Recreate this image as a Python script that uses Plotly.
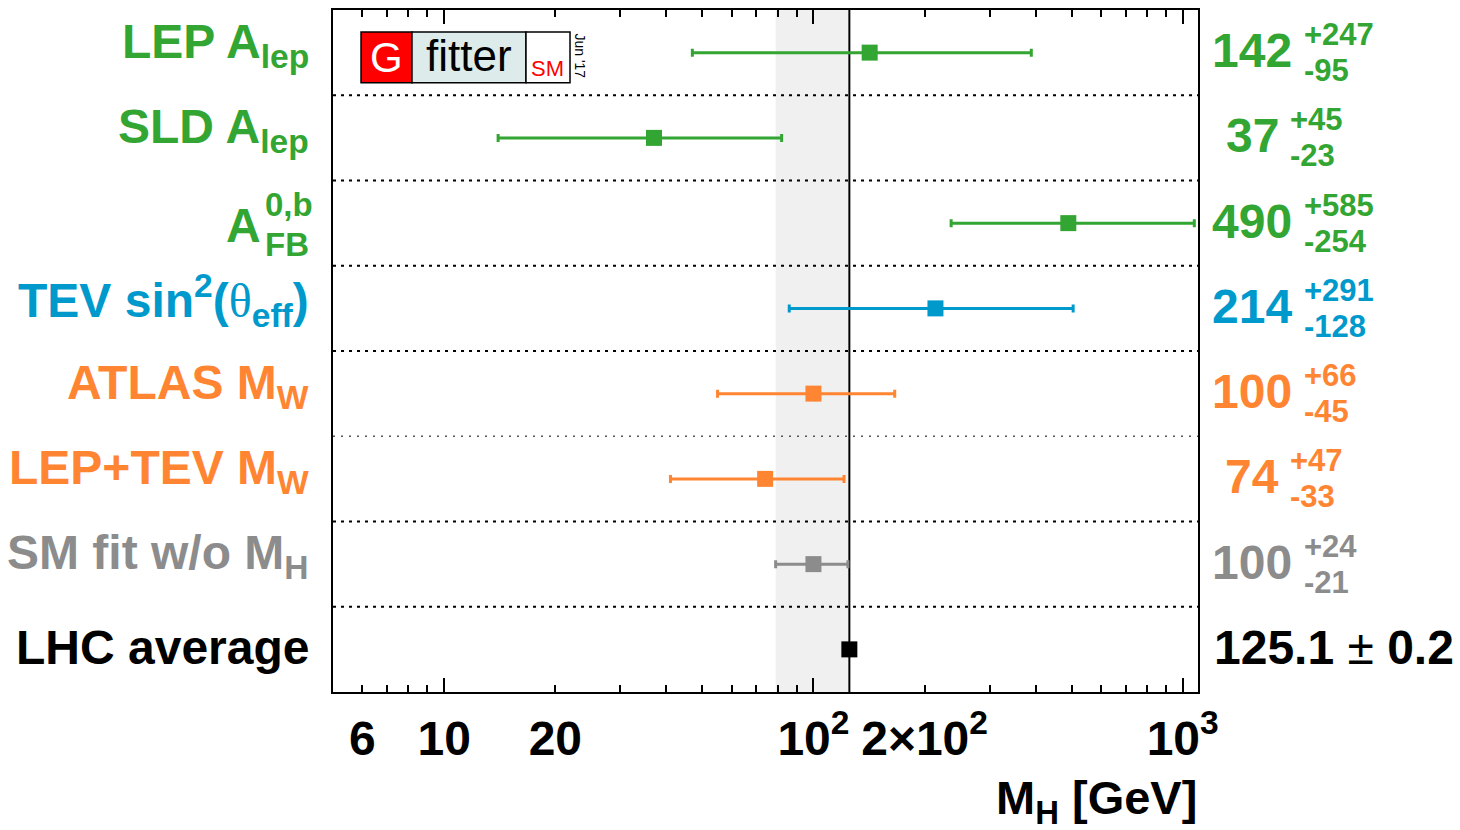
import plotly.graph_objects as go

# Higgs mass determinations (GeV)
labels = ["LEP A<sub>lep</sub>", "SLD A<sub>lep</sub>", "A",
          "TEV sin<sup>2</sup>(<span style=\"font-family:'Liberation Serif';font-weight:normal\">θ</span><sub>eff</sub>)",
          "ATLAS M<sub>W</sub>", "LEP+TEV M<sub>W</sub>", "SM fit w/o M<sub>H</sub>", "LHC average"]
values = [142, 37, 490, 214, 100, 74, 100, 125.1]
err_plus = [247, 45, 585, 291, 66, 47, 24, 0.2]
err_minus = [95, 23, 254, 128, 45, 33, 21, 0.2]
colors = ["#33a532", "#33a532", "#33a532", "#0099cc", "#ff8533", "#ff8533", "#8c8c8c", "#000000"]

# SM fit band and LHC reference
band = [79, 124]
lhc_mass = 125.1

tick_vals = [6, 10, 20, 100, 200, 1000]
tick_text = ["6", "10", "20", "10<sup>2</sup>", "2×10<sup>2</sup>", "10<sup>3</sup>"]
minor_vals = [6, 7, 8, 9, 20, 30, 40, 50, 60, 70, 80, 90, 200, 300, 400, 500, 600, 700, 800, 900]
decade_vals = [10, 100, 1000]

n = len(values)
rows = [n - 1 - i for i in range(n)]
FONT = "Liberation Sans"
BIG = 48
SMALL = 31

fig = go.Figure()

# grey SM band
fig.add_trace(go.Scatter(x=[band[0], band[1], band[1], band[0]], y=[-0.5, -0.5, n - 0.5, n - 0.5],
                         fill="toself", fillcolor="#f0f0f0", line=dict(width=0),
                         mode="lines", hoverinfo="skip", showlegend=False))
# LHC mass line
fig.add_trace(go.Scatter(x=[lhc_mass, lhc_mass], y=[-0.5, n - 0.5], mode="lines",
                         line=dict(color="black", width=2), hoverinfo="skip", showlegend=False))

for i in range(n):
    fig.add_trace(go.Scatter(
        x=[values[i]], y=[rows[i]], mode="markers",
        marker=dict(symbol="square", size=16, color=colors[i]),
        error_x=dict(type="data", symmetric=False, array=[err_plus[i]], arrayminus=[err_minus[i]],
                     color=colors[i], thickness=3, width=4),
        showlegend=False))

# secondary axis for the long decade ticks
fig.add_trace(go.Scatter(x=[10], y=[0], xaxis="x2", mode="markers",
                         marker=dict(opacity=0), hoverinfo="skip", showlegend=False))

shapes = []
for k in range(n - 1):
    yy = k + 0.5
    faint = (k == 2)
    shapes.append(dict(type="line", xref="paper", yref="y", x0=0, x1=1, y0=yy, y1=yy,
                       line=dict(color="#555555" if faint else "black", width=1.5 if faint else 2,
                                 dash="2px,6px" if faint else "3px,5px"),
                       layer="above"))

# logo
logo = [(0.0324, 0.0913, "#ff0000"), (0.0913, 0.2231, "#ddebeb"), (0.2231, 0.274, "#ffffff")]
for x0, x1, c in logo:
    shapes.append(dict(type="rect", xref="paper", yref="paper", x0=x0, x1=x1, y0=0.8933, y1=0.9678,
                       fillcolor=c, line=dict(color="black", width=1.5), layer="above"))

annotations = []
# row labels
for i in range(n):
    if i == 2:
        continue
    has_sub = "<sub>" in labels[i]
    annotations.append(dict(xref="paper", yref="y", x=0, y=rows[i], xshift=-22,
                            yshift=8 if has_sub else 2,
                            xanchor="right", yanchor="middle", text=labels[i], showarrow=False,
                            font=dict(family=FONT, size=BIG, color=colors[i], weight="bold")))
annotations += [
    dict(xref="paper", yref="y", x=0, y=rows[2], xshift=-70, yshift=-2, xanchor="right", yanchor="middle",
         text="A", showarrow=False, font=dict(family=FONT, size=BIG, color=colors[2], weight="bold")),
    dict(xref="paper", yref="y", x=0, y=rows[2], xshift=-70, yshift=19, xanchor="left", yanchor="middle",
         text="0,b", showarrow=False, font=dict(family=FONT, size=33, color=colors[2], weight="bold")),
    dict(xref="paper", yref="y", x=0, y=rows[2], xshift=-70, yshift=-21, xanchor="left", yanchor="middle",
         text="FB", showarrow=False, font=dict(family=FONT, size=33, color=colors[2], weight="bold")),
]

# value labels on the right
for i in range(n - 1):
    main = str(values[i])
    annotations.append(dict(xref="paper", yref="y", x=1, y=rows[i], xshift=54, yshift=2,
                            xanchor="center", yanchor="middle", text=main, showarrow=False,
                            font=dict(family=FONT, size=BIG, color=colors[i], weight="bold")))
    off = 54 + len(main) * 13.2 + 10
    annotations.append(dict(xref="paper", yref="y", x=1, y=rows[i], xshift=off, yshift=18,
                            xanchor="left", yanchor="middle", text="+" + str(err_plus[i]), showarrow=False,
                            font=dict(family=FONT, size=SMALL, color=colors[i], weight="bold")))
    annotations.append(dict(xref="paper", yref="y", x=1, y=rows[i], xshift=off, yshift=-18,
                            xanchor="left", yanchor="middle", text="-" + str(err_minus[i]), showarrow=False,
                            font=dict(family=FONT, size=SMALL, color=colors[i], weight="bold")))
annotations.append(dict(xref="paper", yref="y", x=1, y=rows[-1], xshift=14, yshift=2,
                        xanchor="left", yanchor="middle",
                        text=f"{values[-1]} <span style='font-weight:normal'>±</span> {err_plus[-1]}",
                        showarrow=False, font=dict(family=FONT, size=BIG, color="black", weight="bold")))

# axis title
annotations.append(dict(xref="paper", yref="paper", x=1, y=-0.16, xshift=1, xanchor="right", yanchor="middle",
                        text="M<sub>H</sub> [GeV]", showarrow=False,
                        font=dict(family=FONT, size=47, color="black", weight="bold")))

# logo text
annotations += [
    dict(xref="paper", yref="paper", x=0.0618, y=0.931, text="G", showarrow=False,
         font=dict(family=FONT, size=42, color="white"), xanchor="center", yanchor="middle"),
    dict(xref="paper", yref="paper", x=0.157, y=0.933, text="fitter", showarrow=False,
         font=dict(family=FONT, size=44, color="black"), xanchor="center", yanchor="middle"),
    dict(xref="paper", yref="paper", x=0.2485, y=0.914, text="SM", showarrow=False,
         font=dict(family=FONT, size=22, color="#ff0000"), xanchor="center", yanchor="middle"),
    dict(xref="paper", yref="paper", x=0.2855, y=0.932, text="Jun '17", showarrow=False, textangle=90,
         font=dict(family=FONT, size=14, color="black"), xanchor="center", yanchor="middle"),
]

fig.update_layout(
    width=1460, height=830,
    margin=dict(l=333, r=262, t=8, b=138),
    paper_bgcolor="white", plot_bgcolor="white",
    shapes=shapes, annotations=annotations,
    xaxis=dict(type="log", range=[0.69897, 3.0414], showgrid=False, zeroline=False,
               showline=True, linecolor="black", linewidth=2, mirror="ticks",
               tickmode="array", tickvals=tick_vals, ticktext=tick_text, ticks="",
               tickfont=dict(family=FONT, size=BIG, color="black", weight="bold"),
               ticklabelstandoff=3,
               minor=dict(tickmode="array", tickvals=minor_vals, ticks="inside", ticklen=7,
                          tickwidth=1.5, tickcolor="black", showgrid=False)),
    xaxis2=dict(type="log", range=[0.69897, 3.0414], overlaying="x", side="bottom",
                showgrid=False, zeroline=False, showline=False, mirror="ticks",
                tickmode="array", tickvals=decade_vals, ticks="inside", ticklen=14,
                tickwidth=2, tickcolor="black", showticklabels=False),
    yaxis=dict(range=[-0.5, n - 0.5], showgrid=False, zeroline=False, showline=True,
               linecolor="black", linewidth=2, mirror=True, showticklabels=False, ticks=""),
)

fig.write_html("out.html")
